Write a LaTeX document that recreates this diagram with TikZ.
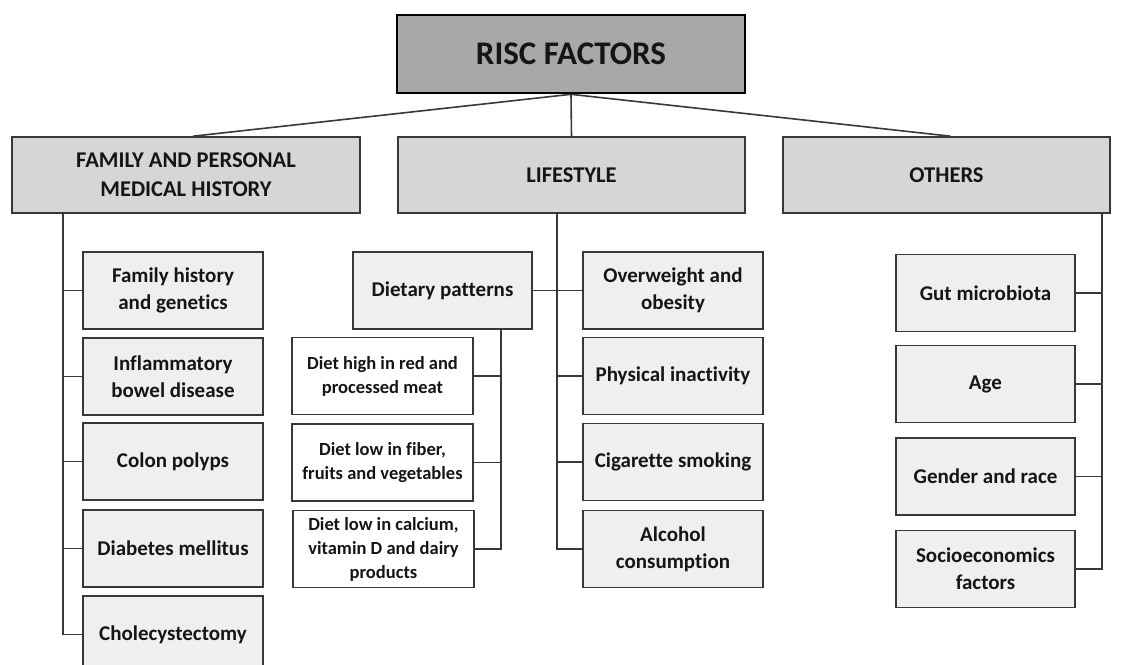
\documentclass[tikz,border=0pt]{standalone}
\usepackage{fontspec}
\setmainfont{Carlito}[Ligatures={NoCommon}]
\definecolor{linec}{HTML}{383838}
\definecolor{topfill}{HTML}{A8A8A8}
\definecolor{catfill}{HTML}{D6D6D6}
\definecolor{leaffill}{HTML}{EFEFEF}
\definecolor{txt}{HTML}{151515}
\tikzset{
  basebox/.style={draw=linec, line width=1.6pt, align=center, inner sep=0pt, text=txt},
  topbox/.style={basebox, draw=black, line width=2.6pt, fill=topfill, minimum width=348pt, minimum height=78pt, font=\bfseries\fontsize{33}{38}\selectfont},
  catbox/.style={basebox, fill=catfill, minimum height=76pt, font=\bfseries\fontsize{22.5}{29}\selectfont},
  leaf/.style={basebox, fill=leaffill, minimum width=180pt, minimum height=77pt, font=\bfseries\fontsize{21}{27}\selectfont},
  dietbox/.style={basebox, fill=white, minimum width=181pt, minimum height=77pt, font=\bfseries\fontsize{18.5}{24}\selectfont},
  conn/.style={draw=linec, line width=1.6pt},
}
\begin{document}
\begin{tikzpicture}[x=1pt, y=-1pt]
\useasboundingbox (0,0) rectangle (1124,664);
\begin{scope}
\clip (0,0) rectangle (1124,664);
% top
\node[topbox] (top) at (571,54) {RISC FACTORS};
% categories
\node[catbox, minimum width=348pt] (fam) at (186,175) {FAMILY AND PERSONAL\\MEDICAL HISTORY};
\node[catbox, minimum width=347pt] (life) at (571.5,175) {LIFESTYLE};
\node[catbox, minimum width=327pt] (oth) at (946.5,175) {OTHERS};
% left leaves
\node[leaf] (l1) at (173,290.5) {Family history\\and genetics};
\node[leaf] (l2) at (173,376.5) {Inflammatory\\bowel disease};
\node[leaf] (l3) at (173,461.5) {Colon polyps};
\node[leaf] (l4) at (173,548.5) {Diabetes mellitus};
\node[leaf] (l5) at (173,634.5) {Cholecystectomy};
% middle
\node[leaf, minimum width=179pt] (diet) at (442.5,290.5) {Dietary patterns};
\node[leaf] (m1) at (673,290.5) {Overweight and\\obesity};
\node[leaf] (m2) at (673,376) {Physical inactivity};
\node[leaf] (m3) at (673,462) {Cigarette smoking};
\node[leaf] (m4) at (673,549) {Alcohol\\consumption};
\node[dietbox] (d1) at (382.5,376) {Diet high in red and\\processed meat};
\node[dietbox] (d2) at (382.5,462.5) {Diet low in fiber,\\fruits and vegetables};
\node[dietbox] (d3) at (383.5,549) {Diet low in calcium,\\vitamin D and dairy\\products};
% right
\node[leaf, minimum width=179pt] (r1) at (985.5,293) {Gut microbiota};
\node[leaf, minimum width=179pt] (r2) at (985.5,384) {Age};
\node[leaf, minimum width=179pt] (r3) at (985.5,476.5) {Gender and race};
\node[leaf, minimum width=179pt] (r4) at (985.5,569) {Socioeconomics\\factors};
% trunks
\coordinate (tl) at (63,0);
\coordinate (tm) at (557,0);
\coordinate (td) at (501,0);
\coordinate (tr) at (1102,0);
% top connectors
\draw[conn] (top.south) -- ([xshift=7pt]fam.north);
\draw[conn] (top.south) -- (life.north);
\draw[conn] (top.south) -- ([xshift=4pt]oth.north);
% left
\draw[conn] (tl |- fam.south) |- (l5.west);
\foreach \n in {l1,l2,l3,l4} \draw[conn] (tl |- \n.west) -- (\n.west);
% middle
\draw[conn] (tm |- life.south) |- (m4.west);
\draw[conn] (diet.east) -- (m1.west);
\foreach \n in {m2,m3} \draw[conn] (tm |- \n.west) -- (\n.west);
\draw[conn] (td |- diet.south) |- (d3.east);
\foreach \n in {d1,d2} \draw[conn] (td |- \n.east) -- (\n.east);
% right
\draw[conn] (tr |- oth.south) |- (r4.east);
\foreach \n in {r1,r2,r3} \draw[conn] (tr |- \n.east) -- (\n.east);
\end{scope}
\end{tikzpicture}
\end{document}
